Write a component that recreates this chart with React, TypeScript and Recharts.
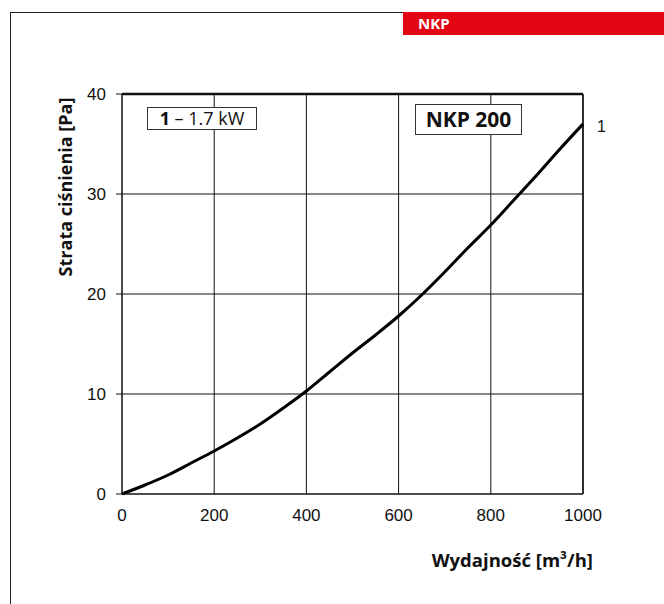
import React from 'react';
import { LineChart, Line, XAxis, YAxis, CartesianGrid, ReferenceLine } from 'recharts';

// flow [m3/h] vs pressure loss [Pa] for NKP 200
const flow = [0, 50, 100, 150, 200, 250, 300, 350, 400, 450, 500, 550, 600, 650, 700, 750, 800, 850, 900, 950, 1000];
const loss = [0, 0.9, 1.9, 3.1, 4.3, 5.6, 7.0, 8.6, 10.3, 12.2, 14.1, 15.9, 17.8, 19.9, 22.2, 24.6, 26.9, 29.4, 31.9, 34.5, 37.0];
const xTicks = [0, 200, 400, 600, 800, 1000];
const yTicks = [0, 10, 20, 30, 40];

const data = flow.map((q, i) => ({ q, p: loss[i] }));

const W = 664;
const H = 604;
const tickFont = { fontFamily: '"Liberation Sans", Arial, sans-serif', fontSize: 17, fill: '#111' };
const titleFont: React.CSSProperties = {
  position: 'absolute',
  fontFamily: '"Open Sans", sans-serif',
  fontWeight: 700,
  fontSize: 18,
  color: '#111',
  whiteSpace: 'nowrap',
  lineHeight: 1,
};

export default function App() {
  return (
    <div style={{ position: 'absolute', left: 0, top: 0, width: W, height: H, background: '#fff' }}>
      {/* page frame + red tab */}
      <div style={{ position: 'absolute', left: 10, top: 12, width: 1, height: H - 12, background: '#222' }} />
      <div style={{ position: 'absolute', left: 10, top: 12, width: 393, height: 1, background: '#222' }} />
      <div style={{ position: 'absolute', left: 403, top: 12, width: W - 403, height: 23, background: '#e30613' }}>
        <span style={{ ...titleFont, position: 'absolute', left: 15, top: 4, color: '#fff', fontSize: 15 }}>NKP</span>
      </div>

      <LineChart
        width={W}
        height={H}
        data={data}
        margin={{ top: 94, right: 81, bottom: 80, left: 62 }}
        style={{ position: 'absolute', left: 0, top: 0 }}
      >
        <CartesianGrid stroke="#111" strokeWidth={1} horizontalValues={yTicks} verticalValues={xTicks} />
        <XAxis
          dataKey="q"
          type="number"
          domain={[0, 1000]}
          ticks={xTicks}
          tickLine={false}
          axisLine={{ stroke: '#111' }}
          tick={tickFont}
          tickMargin={9}
          height={30}
        />
        <YAxis
          type="number"
          domain={[0, 40]}
          ticks={yTicks}
          tickSize={6}
          tickLine={{ stroke: '#111' }}
          axisLine={{ stroke: '#111' }}
          tick={tickFont}
          tickMargin={10}
          width={60}
        />
        <ReferenceLine y={40} stroke="#111" strokeWidth={2.5} />
        <ReferenceLine x={1000} stroke="#111" strokeWidth={1.5} />
        <Line
          type="monotone"
          dataKey="p"
          stroke="#000"
          strokeWidth={3}
          dot={false}
          isAnimationActive={false}
        />
      </LineChart>

      {/* legend boxes */}
      <div
        style={{
          position: 'absolute',
          left: 147,
          top: 107,
          width: 110,
          height: 23,
          border: '1px solid #333',
          background: '#fff',
          boxSizing: 'border-box',
          fontFamily: '"Open Sans", sans-serif',
          fontSize: 18,
          lineHeight: '21px',
          textAlign: 'center',
          color: '#111',
          whiteSpace: 'nowrap',
        }}
      >
        <b>1</b> – 1.7 kW
      </div>
      <div
        style={{
          position: 'absolute',
          left: 415,
          top: 104,
          width: 107,
          height: 31,
          border: '1px solid #333',
          background: '#fff',
          boxSizing: 'border-box',
          fontFamily: '"Open Sans", sans-serif',
          fontWeight: 700,
          fontSize: 21,
          lineHeight: '29px',
          textAlign: 'center',
          color: '#111',
          whiteSpace: 'nowrap',
        }}
      >
        NKP 200
      </div>
      <div style={{ ...titleFont, fontWeight: 400, fontSize: 16, fontFamily: '"Liberation Sans", Arial, sans-serif', left: 597, top: 119 }}>1</div>

      {/* axis titles */}
      <div
        style={{
          ...titleFont,
          left: 65,
          top: 187,
          transform: 'translate(-50%, -50%) rotate(-90deg)',
        }}
      >
        Strata ciśnienia [Pa]
      </div>
      <div style={{ ...titleFont, right: W - 593, top: 551, fontSize: 18.5 }}>
        Wydajność [m³/h]
      </div>
    </div>
  );
}
